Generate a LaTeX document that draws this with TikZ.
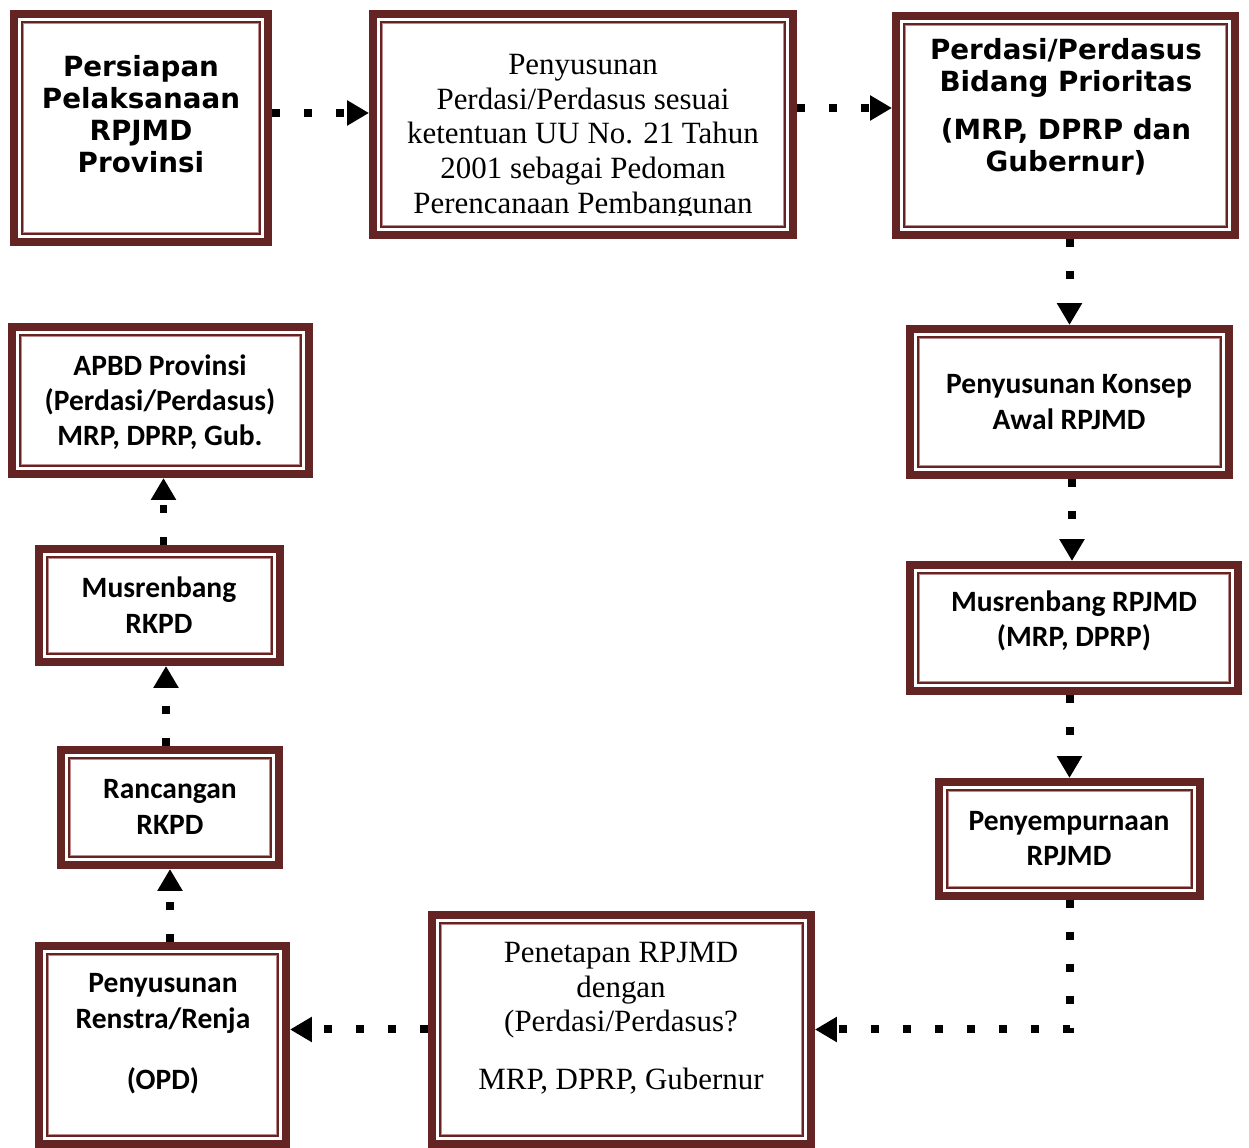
\documentclass[tikz,border=0pt]{standalone}
\usepackage{fontspec}
\setmainfont{Liberation Serif}
\newfontfamily\verdana{DejaVu Sans}
\newfontfamily\calibri{Carlito}
\usetikzlibrary{arrows.meta}

\definecolor{merahtua}{RGB}{99,36,35}
\definecolor{merahmuda}{RGB}{190,140,140}

\tikzset{
  kotak/.style={draw=merahtua, line width=0.16cm, fill=white, inner sep=0pt,
    path picture={
      \draw[merahtua, line width=0.04cm]
        ([shift={(0.16cm,0.16cm)}]path picture bounding box.south west) rectangle
        ([shift={(-0.16cm,-0.16cm)}]path picture bounding box.north east);
      \draw[merahmuda, line width=0.02cm]
        ([shift={(0.19cm,0.19cm)}]path picture bounding box.south west) rectangle
        ([shift={(-0.19cm,-0.19cm)}]path picture bounding box.north east);
    }},
  alur/.style={line width=0.16cm, dash pattern=on 0.16cm off 0.48cm,
    -{Triangle[length=0.44cm, width=0.48cm]}},
  tebal/.style={align=center, inner sep=0pt, font=\verdana\bfseries\fontsize{15.8}{18.3}\selectfont},
  serif/.style={align=center, inner sep=0pt, font=\fontsize{17.6}{19.7}\selectfont},
  tegas/.style={align=center, inner sep=0pt, font=\calibri\bfseries\fontsize{16.8}{20.1}\selectfont}
}

\begin{document}
\begin{tikzpicture}[x=0.02cm, y=-0.02cm]
    \useasboundingbox (0,0) rectangle (1249,1148);

    % Nodes
    \node[kotak, minimum width=5.08cm, minimum height=4.56cm] (persiapan) at (141,128) {};
    \node[kotak, minimum width=8.40cm, minimum height=4.42cm] (penyusunan) at (583,124.5) {};
    \node[kotak, minimum width=6.78cm, minimum height=4.38cm] (perdasi) at (1065.5,125.5) {};
    \node[kotak, minimum width=6.38cm, minimum height=2.92cm] (konsep) at (1069.5,402) {};
    \node[kotak, minimum width=6.56cm, minimum height=2.52cm] (musrenRpjmd) at (1074,628) {};
    \node[kotak, minimum width=5.22cm, minimum height=2.28cm] (sempurna) at (1069.5,839) {};
    \node[kotak, minimum width=7.58cm, minimum height=4.58cm] (penetapan) at (621.5,1029.5) {};
    \node[kotak, minimum width=4.94cm, minimum height=3.96cm] (renstra) at (162.5,1045) {};
    \node[kotak, minimum width=4.36cm, minimum height=2.30cm] (rancangan) at (170,807.5) {};
    \node[kotak, minimum width=4.82cm, minimum height=2.26cm] (musrenRkpd) at (159.5,605.5) {};
    \node[kotak, minimum width=5.94cm, minimum height=2.94cm] (apbd) at (160.5,400.5) {};

    % Texts
    \node[tebal] (persiapanTeks) at (141,114) {Persiapan\\Pelaksanaan\\RPJMD\\Provinsi};
    \begin{scope}
      \clip (374,20) rectangle (792,216);
      \node[serif] (penyusunanTeks) at (583,137) {Penyusunan\\Perdasi/Perdasus sesuai\\ketentuan UU No. 21 Tahun\\2001 sebagai Pedoman\\Perencanaan Pembangunan};
    \end{scope}
    \node[tebal] (perdasiTeks) at (1066,107) {Perdasi/Perdasus\\Bidang Prioritas\\[9pt](MRP, DPRP dan\\Gubernur)};
    \node[tegas] (konsepTeks) at (1069,402) {Penyusunan Konsep\\Awal RPJMD};
    \node[tegas] (musrenRpjmdTeks) at (1074,621) {Musrenbang RPJMD\\(MRP, DPRP)};
    \node[tegas] (sempurnaTeks) at (1069,838.5) {Penyempurnaan\\RPJMD};
    \node[serif] (penetapanTeks) at (621,1018) {Penetapan RPJMD\\dengan\\(Perdasi/Perdasus?\\[13pt]MRP, DPRP, Gubernur};
    \node[tegas] (renstraTeks) at (163,1034) {Penyusunan\\Renstra/Renja\\[15pt](OPD)};
    \node[tegas] (rancanganTeks) at (170,807) {Rancangan\\RKPD};
    \node[tegas] (musrenRkpdTeks) at (159,605) {Musrenbang\\RKPD};
    \node[tegas] (apbdTeks) at (160,402) {APBD Provinsi\\(Perdasi/Perdasus)\\MRP, DPRP, Gub.};

    % Lines
    \draw[alur] ([yshift=0.3cm]persiapan.east) -- ([yshift=0.3cm]persiapan.east -| penyusunan.west);
    \draw[alur] ([yshift=0.33cm]penyusunan.east) -- ([yshift=0.33cm]penyusunan.east -| perdasi.west);
    \draw[alur] (konsep.north |- perdasi.south) -- (konsep.north);
    \draw[alur] ([xshift=0.05cm]konsep.south) -- ([xshift=0.05cm]konsep.south |- musrenRpjmd.north);
    \draw[alur] (sempurna.north |- musrenRpjmd.south) -- (sempurna.north);
    \draw[alur] (sempurna.south) |- (penetapan.east);
    \draw[alur] (penetapan.west) -- (penetapan.west -| renstra.east);
    \draw[alur] (rancangan.south |- renstra.north) -- (rancangan.south);
    \draw[alur] ([xshift=-0.08cm]rancangan.north) -- ([xshift=-0.08cm]rancangan.north |- musrenRkpd.south);
    \draw[alur] ([xshift=0.08cm]musrenRkpd.north) -- ([xshift=0.08cm]musrenRkpd.north |- apbd.south);

\end{tikzpicture}
\end{document}
